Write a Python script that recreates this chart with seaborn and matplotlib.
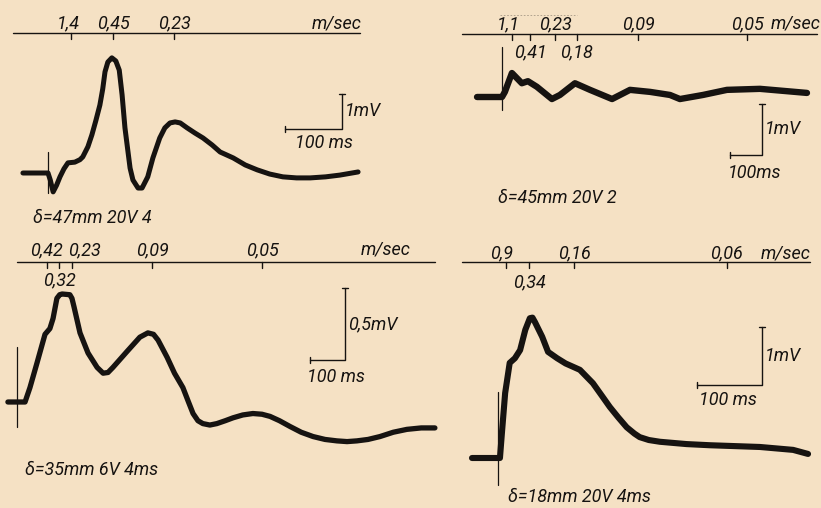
"""
Evoked potential traces at four electrode distances, with conduction
velocity marks (m/sec) and scale bars.
"""
import matplotlib
matplotlib.use("Agg")
import matplotlib.pyplot as plt
import matplotlib.transforms as mtransforms
import seaborn as sns

W, H = 821, 508
PAPER = "#f5e1c4"
INK = "#161311"

# ---- trace data: time after stimulus (ms), potential (mV) ----
tl_t = [-44, 0, 4, 9, 15, 21, 28, 35, 47, 56, 61, 70, 77, 84, 91, 96, 100, 105, 112,
        119, 125, 130, 135, 140, 144, 149, 158, 165, 175, 184, 196, 205, 214, 223,
        232, 244, 258, 272, 288, 302, 325, 346, 367, 389, 412, 436, 460, 487, 512, 544]
tl_v = [0, 0, -0.2, -0.54, -0.35, -0.11, 0.12, 0.29, 0.31, 0.38, 0.46, 0.75, 1.09,
        1.5, 1.94, 2.4, 2.89, 3.17, 3.29, 3.2, 2.94, 2.23, 1.29, 0.65, 0.14, -0.2,
        -0.43, -0.43, -0.11, 0.43, 1.0, 1.29, 1.43, 1.46, 1.43, 1.29, 1.14, 1.0,
        0.8, 0.6, 0.43, 0.23, 0.09, -0.03, -0.11, -0.14, -0.14, -0.11, -0.06, 0.03]
tl_ms_up = [40, 114, 221]
tl_vel_up = ["1,4", "0,45", "0,23"]

tr_t = [-78, 0, 9, 31, 62, 81, 109, 156, 181, 228, 275, 344, 400, 463, 525, 556,
        628, 703, 806, 953]
tr_v = [0, 0, 0.10, 0.47, 0.27, 0.31, 0.20, -0.04, 0.04, 0.27, 0.14, -0.04, 0.14,
        0.10, 0.04, -0.04, 0.04, 0.14, 0.16, 0.08]
tr_ms_up = [31, 166, 425, 766]
tr_vel_up = ["1,1", "0,23", "0,09", "0,05"]
tr_ms_low = [88, 234]
tr_vel_low = ["0,41", "0,18"]

bl_t = [-26, 23, 37, 57, 80, 94, 103, 114, 122, 129, 151, 157, 163, 180, 203, 229,
        246, 260, 274, 314, 351, 374, 390, 403, 429, 450, 474, 490, 503, 517, 531,
        551, 571, 595, 617, 645, 674, 700, 723, 750, 780, 812, 846, 880, 914, 943,
        971, 1003, 1037, 1075, 1114, 1155, 1194]
bl_v = [0, 0, 0.10, 0.27, 0.47, 0.51, 0.58, 0.72, 0.745, 0.75, 0.745, 0.72, 0.66,
        0.48, 0.34, 0.24, 0.20, 0.205, 0.24, 0.35, 0.45, 0.48, 0.47, 0.43, 0.31,
        0.20, 0.10, 0.0, -0.08, -0.13, -0.15, -0.16, -0.15, -0.13, -0.11, -0.09,
        -0.08, -0.085, -0.10, -0.13, -0.17, -0.21, -0.24, -0.26, -0.27, -0.275,
        -0.27, -0.26, -0.24, -0.21, -0.19, -0.18, -0.18]
bl_ms_up = [86, 157, 386, 700]
bl_vel_up = ["0,42", "0,23", "0,09", "0,05"]
bl_ms_low = [120]
bl_vel_low = ["0,32"]

br_t = [-40, 3, 6, 11, 18, 26, 34, 42, 49, 53, 57, 68, 77, 91, 104, 126, 146, 160,
        172, 185, 198, 210, 218, 232, 249, 290, 326, 403, 454, 477]
br_v = [0, 0, 0.43, 1.12, 1.64, 1.72, 1.86, 2.21, 2.41, 2.42, 2.34, 2.09, 1.83, 1.72,
        1.63, 1.52, 1.29, 1.07, 0.88, 0.70, 0.53, 0.42, 0.36, 0.31, 0.28, 0.24, 0.22,
        0.19, 0.14, 0.07]
br_ms_up = [12, 117, 352]
br_vel_up = ["0,9", "0,16", "0,06"]
br_ms_low = [48]
br_vel_low = ["0,34"]

captions = ["δ=47mm 20V 4", "δ=45mm 20V 2", "δ=35mm 6V 4ms", "δ=18mm 20V 4ms"]
mv_labels = ["1mV", "1mV", "0,5mV", "1mV"]
mv_sizes = [1.0, 1.0, 0.5, 1.0]
ms_labels = ["100 ms", "100ms", "100 ms", "100 ms"]

# ---- layout (pixels from the top-left corner) ----
panels = [
    dict(t=tl_t, v=tl_v, up=(tl_ms_up, tl_vel_up), low=None, lw=3.6,
         x0=48, y0=173, sx=0.57, sy=35.0, axis_y=33, axis_x=(13, 360),
         up_y=23, low_y=None, msec=(337, 23, "center"), stim=(152, 193),
         bar=(342, 129), ms_xy=(324, 143), cap_xy=(33, 218), nudge={0: -3}),
    dict(t=tr_t, v=tr_v, up=(tr_ms_up, tr_vel_up), low=(tr_ms_low, tr_vel_low), lw=4.6,
         x0=502, y0=97, sx=0.32, sy=51.0, axis_y=34, axis_x=(462, 817),
         up_y=24, low_y=52, msec=(821, 24, "right"), stim=(47, 110),
         bar=(762, 155), ms_xy=(755, 173), cap_xy=(498, 198), nudge={0: -4}),
    dict(t=bl_t, v=bl_v, up=(bl_ms_up, bl_vel_up), low=(bl_ms_low, bl_vel_low), lw=3.8,
         x0=17, y0=402, sx=0.35, sy=144.0, axis_y=262, axis_x=(17, 435),
         up_y=250, low_y=280, msec=(386, 250, "center"), stim=(347, 427),
         bar=(345, 360), ms_xy=(336, 377), cap_xy=(25, 470), nudge={0: -1, 1: 12}),
    dict(t=br_t, v=br_v, up=(br_ms_up, br_vel_up), low=(br_ms_low, br_vel_low), lw=4.4,
         x0=498, y0=458, sx=0.65, sy=58.0, axis_y=262, axis_x=(462, 810),
         up_y=253, low_y=282, msec=(786, 253, "center"), stim=(392, 485),
         bar=(762, 385), ms_xy=(728, 400), cap_xy=(508, 497), nudge={0: -4}),
]

sns.set_theme(style="white")
plt.rcParams["font.family"] = ["Roboto", "DejaVu Sans"]

fig = plt.figure(figsize=(W / 100, H / 100), dpi=100)
fig.patch.set_facecolor(PAPER)

# pixel transform: x right, y down, origin top-left
pix = mtransforms.Affine2D().scale(1 / W, -1 / H).translate(0, 1) + fig.transFigure

# faint ruled line above the top-right labels
fig.add_artist(plt.Line2D([500, 577], [15, 15], transform=pix, color=INK,
                          lw=0.6, ls=(0, (2, 2)), alpha=0.35))

TXT = dict(color=INK, fontsize=13, style="italic", transform=pix)

for i, p in enumerate(panels):
    ax = fig.add_axes([0, 0, 1, 1])
    ax.patch.set_alpha(0)
    x0, y0, sx, sy = p["x0"], p["y0"], p["sx"], p["sy"]
    ax.set_xlim(-x0 / sx, (W - x0) / sx)
    ax.set_ylim(-(H - y0) / sy, y0 / sy)
    ax.axis("off")
    xpix = mtransforms.blended_transform_factory(ax.transData, pix)

    # the trace
    sns.lineplot(x=p["t"], y=p["v"], ax=ax, sort=False, estimator=None,
                 color=INK, lw=p["lw"], solid_joinstyle="round", solid_capstyle="round")

    # stimulus mark
    ax.plot([0, 0], list(p["stim"]), transform=xpix, color=INK, lw=0.9)

    # velocity axis
    ax.plot(list(p["axis_x"]), [p["axis_y"]] * 2, transform=pix, color=INK, lw=1.0)
    rows = [(p["up"], p["up_y"], p["nudge"])]
    if p["low"]:
        rows.append((p["low"], p["low_y"], {}))
    for (ms, labels), ly, nudge in rows:
        for k, (m, lab) in enumerate(zip(ms, labels)):
            ax.plot([m, m], [p["axis_y"], p["axis_y"] + 6], transform=xpix,
                    color=INK, lw=1.0)
            xt = x0 + m * sx + nudge.get(k, 0)
            ax.text(xt, ly, lab, ha="center", va="center", **TXT)
    mx, my, mha = p["msec"]
    ax.text(mx, my, "m/sec", ha=mha, va="center", **TXT)

    # scale bars
    cx, cy = p["bar"]
    hl = 100 * sx
    vl = mv_sizes[i] * sy
    ax.plot([cx - hl, cx, cx], [cy, cy, cy - vl], transform=pix, color=INK, lw=1.0)
    ax.plot([cx - 3, cx + 3], [cy - vl] * 2, transform=pix, color=INK, lw=1.0)
    ax.plot([cx - hl] * 2, [cy - 3, cy + 3], transform=pix, color=INK, lw=1.0)
    ax.text(cx + 3, cy - vl / 2, mv_labels[i], ha="left", va="center", **TXT)
    ax.text(*p["ms_xy"], ms_labels[i], ha="center", va="center", **TXT)

    # caption
    ax.text(*p["cap_xy"], captions[i], ha="left", va="center", **TXT)

fig.savefig("out.png", dpi=100, facecolor=PAPER)
